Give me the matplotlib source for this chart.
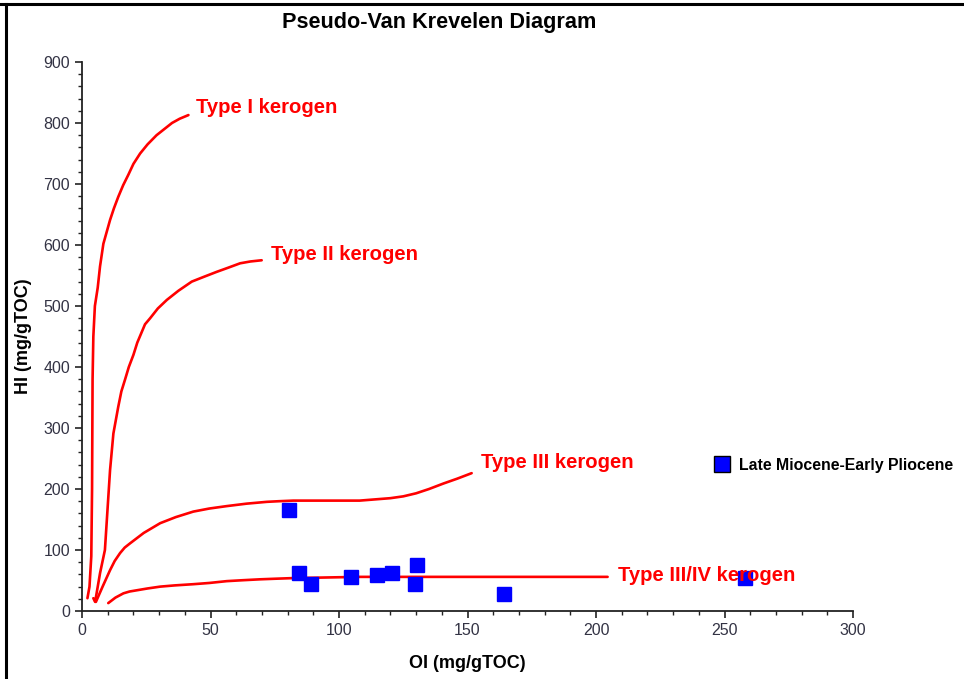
import matplotlib
matplotlib.use("Agg")
import matplotlib.pyplot as plt
from matplotlib.lines import Line2D
from matplotlib.ticker import MultipleLocator

plt.rcParams["font.family"] = ["Liberation Sans", "DejaVu Sans"]

# kerogen type guide curves (OI, HI)
type1_oi = [2.1, 2.9, 3.6, 3.9, 4.1, 4.4, 5.0, 6.1, 7.0, 8.3, 10.9, 12.4, 14.1, 16.0, 18.0,
            20.0, 22.6, 25.5, 29.0, 32.0, 35.0, 38.0, 41.4]
type1_hi = [21, 40, 90, 200, 380, 450, 500, 530, 565, 602, 641, 660, 679, 698, 715,
            733, 750, 765, 780, 790, 800, 807, 813]

type2_oi = [4.4, 5.1, 7.0, 8.9, 10.9, 12.2, 14.1, 15.3, 16.7, 18.2, 20.0, 21.5, 23.0, 24.5,
            26.5, 29.5, 33.0, 37.5, 42.7, 47.5, 52.4, 57.0, 61.5, 65.5, 69.9]
type2_hi = [21, 15, 62, 100, 231, 291, 335, 360, 379, 400, 420, 440, 455, 470,
            480, 496, 510, 525, 540, 548, 556, 563, 570, 573, 575]

type3_oi = [5.4, 8.0, 10.9, 12.7, 14.8, 16.6, 18.7, 24.0, 30.4, 36.5, 43.3, 49.5, 56.3, 64.0,
            71.9, 76.5, 82.2, 95.0, 108, 114, 120, 125, 130, 135, 140.6, 146, 151.6]
type3_hi = [15, 40, 67, 82, 95, 104, 111, 128, 144, 154, 163, 168, 172, 176,
            179, 180, 181, 181, 181, 183, 185, 188, 193, 200, 209, 217, 226]

type34_oi = [10.2, 13.0, 16.1, 18.5, 21.3, 25.5, 30.4, 36.0, 43.3, 49.5, 56.3, 62.5, 69.3,
             75.5, 82.2, 108, 150, 204.5]
type34_hi = [13, 22, 29, 32, 34, 37, 40, 42, 44, 46, 49, 50.5, 52,
             53, 54, 56, 56, 56]

curve_labels = ["Type I kerogen", "Type II kerogen", "Type III kerogen", "Type III/IV kerogen"]
label_oi = [44.4, 73.5, 155.3, 208.6]
label_hi = [825, 584, 243, 59]

# samples
sample_oi = [80.7, 84.4, 89.1, 104.7, 114.8, 120.7, 130.4, 129.4, 164.3, 258.1]
sample_hi = [166, 63, 45, 56, 59, 62, 75, 45, 28, 54]
sample_name = "Late Miocene-Early Pliocene"

fig = plt.figure(figsize=(9.64, 6.79), dpi=100)
ax = fig.add_axes([0.0851, 0.1001, 0.7998, 0.8086])

for xs, ys in [(type1_oi, type1_hi), (type2_oi, type2_hi), (type3_oi, type3_hi), (type34_oi, type34_hi)]:
    ax.plot(xs, ys, color="#ff0000", lw=1.9, solid_capstyle="round", solid_joinstyle="round")

for txt, x, y in zip(curve_labels, label_oi, label_hi):
    ax.text(x, y, txt, color="#ff0000", fontsize=14.6, fontweight="bold", ha="left", va="center")

ax.plot(sample_oi, sample_hi, ls="none", marker="s", ms=10, color="#0000ff",
        mec="#0000ff", label=sample_name)

leg_handle = Line2D([], [], ls="none", marker="s", ms=11, mfc="#0000ff", mec="black", mew=1)
ax.legend([leg_handle], [sample_name], loc="center left", bbox_to_anchor=(0.812, 0.2655),
          frameon=False, handletextpad=0.55, borderaxespad=0, handlelength=1.0,
          prop={"weight": "bold", "size": 11.4})

ax.set_xlim(0, 300)
ax.set_ylim(0, 900)
ax.xaxis.set_major_locator(MultipleLocator(50))
ax.xaxis.set_minor_locator(MultipleLocator(10))
ax.yaxis.set_major_locator(MultipleLocator(100))
ax.yaxis.set_minor_locator(MultipleLocator(20))

for s in ["top", "right"]:
    ax.spines[s].set_visible(False)
for s in ["left", "bottom"]:
    ax.spines[s].set_linewidth(1.3)
    ax.spines[s].set_color("#222222")

ax.tick_params(which="major", length=5, width=1.2, color="#222222", labelsize=11.5,
               labelcolor="#333344", direction="out")
ax.tick_params(which="minor", length=3, width=1.0, color="#222222", direction="out")

ax.set_xlabel("OI (mg/gTOC)", fontsize=13, fontweight="bold", labelpad=12)
ax.set_ylabel("HI (mg/gTOC)", fontsize=13, fontweight="bold", labelpad=8)
fig.text(0.456, 0.967, "Pseudo-Van Krevelen Diagram", fontsize=15.6, fontweight="bold",
         ha="center", va="center")

# outer frame (top and left edges only)
fig.add_artist(Line2D([0, 1], [0.9935, 0.9935], color="black", lw=2.2, transform=fig.transFigure))
fig.add_artist(Line2D([0.0062, 0.0062], [0, 0.9935], color="black", lw=2.2, transform=fig.transFigure))

fig.savefig("out.png", dpi=100)
